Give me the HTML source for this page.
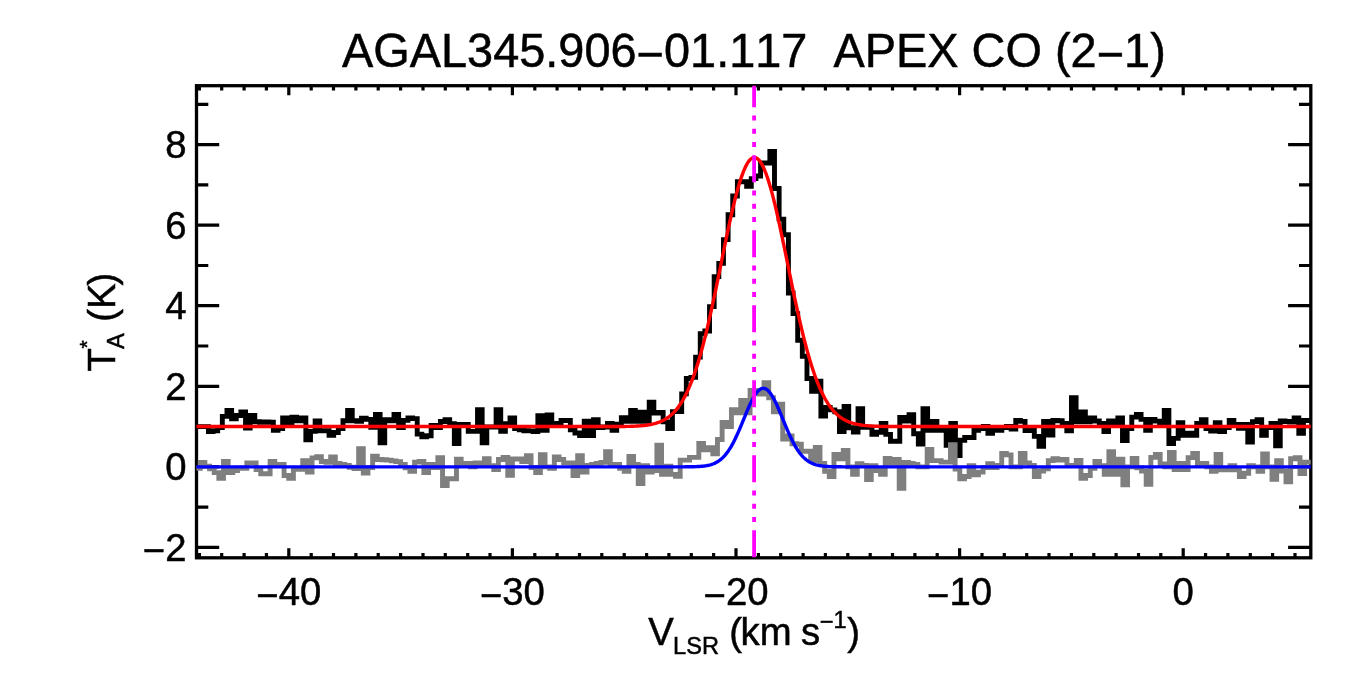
<!DOCTYPE html>
<html lang="en"><head><meta charset="utf-8"><title>AGAL345.906-01.117 APEX CO (2-1)</title>
<style>html,body{margin:0;padding:0;background:#fff;}svg{display:block;}text{font-kerning:none;stroke:#000;stroke-width:0.5px;font-family:"Liberation Sans",sans-serif;fill:#000;}</style></head><body>
<svg width="1350" height="675" viewBox="0 0 1350 675">
<rect width="1350" height="675" fill="#fff"/>
<rect x="196.5" y="85.7" width="1114.3" height="472.1" fill="none" stroke="#000" stroke-width="3.3"/>
<path d="M199.4,557.8v-4.9M199.4,85.7v4.9M221.7,557.8v-4.9M221.7,85.7v4.9M244.1,557.8v-4.9M244.1,85.7v4.9M266.4,557.8v-4.9M266.4,85.7v4.9M288.8,557.8v-9.5M288.8,85.7v9.5M311.2,557.8v-4.9M311.2,85.7v4.9M333.5,557.8v-4.9M333.5,85.7v4.9M355.9,557.8v-4.9M355.9,85.7v4.9M378.2,557.8v-4.9M378.2,85.7v4.9M400.6,557.8v-4.9M400.6,85.7v4.9M423.0,557.8v-4.9M423.0,85.7v4.9M445.3,557.8v-4.9M445.3,85.7v4.9M467.7,557.8v-4.9M467.7,85.7v4.9M490.0,557.8v-4.9M490.0,85.7v4.9M512.4,557.8v-9.5M512.4,85.7v9.5M534.8,557.8v-4.9M534.8,85.7v4.9M557.1,557.8v-4.9M557.1,85.7v4.9M579.5,557.8v-4.9M579.5,85.7v4.9M601.8,557.8v-4.9M601.8,85.7v4.9M624.2,557.8v-4.9M624.2,85.7v4.9M646.6,557.8v-4.9M646.6,85.7v4.9M668.9,557.8v-4.9M668.9,85.7v4.9M691.3,557.8v-4.9M691.3,85.7v4.9M713.6,557.8v-4.9M713.6,85.7v4.9M736.0,557.8v-9.5M736.0,85.7v9.5M758.4,557.8v-4.9M758.4,85.7v4.9M780.7,557.8v-4.9M780.7,85.7v4.9M803.1,557.8v-4.9M803.1,85.7v4.9M825.4,557.8v-4.9M825.4,85.7v4.9M847.8,557.8v-4.9M847.8,85.7v4.9M870.2,557.8v-4.9M870.2,85.7v4.9M892.5,557.8v-4.9M892.5,85.7v4.9M914.9,557.8v-4.9M914.9,85.7v4.9M937.2,557.8v-4.9M937.2,85.7v4.9M959.6,557.8v-9.5M959.6,85.7v9.5M982.0,557.8v-4.9M982.0,85.7v4.9M1004.3,557.8v-4.9M1004.3,85.7v4.9M1026.7,557.8v-4.9M1026.7,85.7v4.9M1049.0,557.8v-4.9M1049.0,85.7v4.9M1071.4,557.8v-4.9M1071.4,85.7v4.9M1093.8,557.8v-4.9M1093.8,85.7v4.9M1116.1,557.8v-4.9M1116.1,85.7v4.9M1138.5,557.8v-4.9M1138.5,85.7v4.9M1160.8,557.8v-4.9M1160.8,85.7v4.9M1183.2,557.8v-9.5M1183.2,85.7v9.5M1205.6,557.8v-4.9M1205.6,85.7v4.9M1227.9,557.8v-4.9M1227.9,85.7v4.9M1250.3,557.8v-4.9M1250.3,85.7v4.9M1272.6,557.8v-4.9M1272.6,85.7v4.9M1295.0,557.8v-4.9M1295.0,85.7v4.9M196.5,547.4h22.7M1310.8,547.4h-22.7M196.5,507.1h11.8M1310.8,507.1h-11.8M196.5,466.9h22.7M1310.8,466.9h-22.7M196.5,426.6h11.8M1310.8,426.6h-11.8M196.5,386.3h22.7M1310.8,386.3h-22.7M196.5,346.0h11.8M1310.8,346.0h-11.8M196.5,305.7h22.7M1310.8,305.7h-22.7M196.5,265.5h11.8M1310.8,265.5h-11.8M196.5,225.2h22.7M1310.8,225.2h-22.7M196.5,184.9h11.8M1310.8,184.9h-11.8M196.5,144.6h22.7M1310.8,144.6h-22.7M196.5,104.3h11.8M1310.8,104.3h-11.8" fill="none" stroke="#000" stroke-width="3.2"/>
<path d="M196.50,426.67H199.13V426.67H203.77V426.67H208.41V431.67H213.05V430.78H217.69V427.44H222.33V416.33H226.97V410.44H231.61V418.78H236.25V415.44H240.89V411.89H245.53V428.00H250.17V415.44H254.81V421.78H259.45V422.22H264.09V422.00H268.73V422.22H273.37V430.22H278.01V428.56H282.65V417.89H287.29V422.44H291.93V417.11H296.57V420.78H301.21V417.89H305.85V439.89H310.49V431.33H315.13V421.00H319.77V430.78H324.41V430.78H329.05V435.22H333.69V432.44H338.33V428.56H342.97V420.78H347.61V410.44H352.25V420.78H356.89V421.33H361.53V418.22H366.17V419.33H370.81V427.22H375.45V414.33H380.09V442.78H384.73V419.67H389.37V420.78H394.01V414.33H398.65V427.44H403.29V420.33H407.93V417.89H412.57V418.67H417.21V434.11H421.85V436.89H426.49V435.78H431.13V425.44H435.77V427.44H440.41V421.56H445.05V419.67H449.69V423.78H454.33V443.56H458.97V424.33H463.61V424.33H468.25V431.33H472.89V431.33H477.53V409.67H482.17V442.78H486.81V427.00H491.45V427.00H496.09V409.67H500.73V431.33H505.37V423.78H510.01V417.89H514.65V428.56H519.29V429.78H523.93V430.78H528.57V430.89H533.21V431.67H537.85V415.67H542.49V430.22H547.13V414.89H551.77V423.44H556.41V423.44H561.05V420.44H565.69V420.44H570.33V429.89H574.97V433.00H579.61V435.44H584.25V421.22H588.89V435.44H593.53V419.67H598.17V427.56H602.81V427.00H607.45V423.44H612.09V430.22H616.73V424.22H621.37V417.67H626.01V421.33H630.65V410.44H635.29V421.33H639.93V412.11H644.57V421.33H649.21V402.11H653.85V413.11H658.49V412.56H663.13V421.89H667.77V428.56H672.41V411.60H677.05V411.60H681.69V393.90H686.33V378.50H690.97V377.40H695.61V357.10H700.25V333.80H704.89V331.00H709.53V306.60H714.17V276.60H718.81V263.40H723.45V239.60H728.09V214.70H732.73V196.00H737.37V181.80H742.01V181.60H746.65V186.40H751.29V178.60H755.93V176.00H760.57V163.00H765.21V163.00H769.85V151.40H774.49V188.50H779.13V219.10H783.77V234.70H788.41V293.00H793.05V313.60H797.69V340.20H802.33V356.30H806.97V378.50H811.61V391.20H816.25V381.20H820.89V416.00H825.53V407.33H830.17V409.89H834.81V411.78H839.45V431.56H844.09V406.56H848.73V427.78H853.37V432.11H858.01V408.78H862.65V427.22H867.29V427.22H871.93V434.33H876.57V432.22H881.21V423.44H885.85V434.33H890.49V441.22H895.13V441.22H899.77V417.33H904.41V421.00H909.05V414.78H913.69V433.78H918.33V444.11H922.97V408.78H927.61V430.22H932.25V421.56H936.89V430.22H941.53V430.22H946.17V445.22H950.81V423.44H955.45V455.44H960.09V440.22H964.73V437.44H969.37V437.44H974.01V430.22H978.65V428.67H983.29V426.56H987.93V433.22H992.57V430.22H997.21V430.22H1001.85V427.44H1006.49V426.33H1011.13V429.11H1015.77V420.44H1020.41V421.33H1025.05V430.56H1029.69V429.78H1034.33V436.33H1038.97V446.33H1043.61V421.56H1048.25V435.00H1052.89V420.44H1057.53V420.78H1062.17V423.44H1066.81V430.78H1071.45V397.67H1076.09V421.89H1080.73V411.89H1085.37V421.89H1090.01V417.89H1094.65V421.00H1099.29V423.44H1103.93V431.67H1108.57V421.00H1113.21V425.33H1117.85V417.89H1122.49V440.56H1127.13V428.56H1131.77V417.11H1136.41V414.33H1141.05V419.33H1145.69V430.22H1150.33V419.33H1154.97V421.11H1159.61V423.11H1164.25V410.44H1168.89V443.56H1173.53V438.33H1178.17V422.67H1182.81V435.22H1187.45V433.11H1192.09V435.22H1196.73V423.44H1201.37V419.67H1206.01V428.56H1210.65V431.00H1215.29V422.67H1219.93V431.67H1224.57V427.44H1229.21V420.44H1233.85V424.56H1238.49V428.33H1243.13V424.56H1247.77V442.11H1252.41V421.67H1257.05V419.67H1261.69V435.22H1266.33V427.44H1270.97V423.44H1275.61V445.78H1280.25V421.00H1284.89V421.56H1289.53V422.00H1294.17V417.89H1298.81V433.22H1303.45V420.44H1308.09V420.44H1310.80" fill="none" stroke="#000" stroke-width="4.90" stroke-linejoin="miter" stroke-linecap="butt"/>
<path d="M196.50,468.22H200.20V462.33H204.86V466.11H209.52V468.78H214.18V472.67H218.84V478.22H223.50V461.44H228.16V472.67H232.82V470.44H237.48V468.22H242.14V468.22H246.80V462.89H251.46V462.89H256.12V469.67H260.78V473.78H265.44V473.78H270.10V461.44H274.76V464.56H279.42V464.56H284.08V475.44H288.74V478.22H293.40V469.33H298.06V469.33H302.72V460.67H307.38V472.11H312.04V457.89H316.70V456.78H321.36V461.44H326.02V462.22H330.68V457.00H335.34V463.44H340.00V464.44H344.66V465.33H349.32V467.22H353.98V468.56H358.64V448.78H363.30V473.00H367.96V467.67H372.62V456.22H377.28V459.56H381.94V459.78H386.60V460.11H391.26V460.89H395.92V461.67H400.58V464.56H405.24V467.89H409.90V471.22H414.56V462.11H419.22V461.44H423.88V472.67H428.54V464.56H433.20V467.67H437.86V457.67H442.52V485.44H447.18V478.78H451.84V478.78H456.50V459.22H461.16V463.44H465.82V463.44H470.48V466.89H475.14V462.89H479.80V463.44H484.46V458.78H489.12V465.67H493.78V469.67H498.44V459.56H503.10V457.33H507.76V475.22H512.42V459.00H517.08V459.00H521.74V461.44H526.40V455.67H531.06V467.44H535.72V472.67H540.38V454.78H545.04V466.89H549.70V468.22H554.36V457.00H559.02V459.56H563.68V462.89H568.34V462.89H573.00V475.67H577.66V455.67H582.32V472.11H586.98V465.33H591.64V464.44H596.30V463.33H600.96V462.33H605.62V451.78H610.28V464.33H614.94V464.33H619.60V468.22H624.26V471.22H628.92V456.56H633.58V464.56H638.24V483.44H642.90V465.67H647.56V472.11H652.22V470.44H656.88V445.11H661.54V474.33H666.20V466.22H670.86V474.33H675.52V476.33H680.18V460.11H684.84V460.11H689.50V457.33H694.16V457.33H698.82V443.44H703.48V449.89H708.14V447.67H712.80V453.78H717.46V439.56H722.12V422.56H726.78V426.60H731.44V409.70H736.10V412.90H740.76V400.40H745.42V412.90H750.08V390.40H754.74V390.40H759.40V394.10H764.06V382.70H768.72V397.70H773.38V411.90H778.04V404.30H782.70V439.10H787.36V436.00H792.02V443.80H796.68V444.20H801.34V451.22H806.00V451.22H810.66V460.56H815.32V447.33H819.98V463.44H824.64V471.22H829.30V476.56H833.96V454.56H838.62V458.78H843.28V450.33H847.94V466.89H852.60V474.33H857.26V463.67H861.92V465.33H866.58V479.67H871.24V465.67H875.90V470.44H880.56V474.33H885.22V458.44H889.88V463.33H894.54V459.56H899.20V488.22H903.86V462.33H908.52V463.44H913.18V464.56H917.84V466.89H922.50V466.89H927.16V449.56H931.82V460.67H936.48V460.67H941.14V462.11H945.80V462.11H950.46V444.78H955.12V469.00H959.78V478.78H964.44V476.56H969.10V465.67H973.76V474.89H978.42V472.11H983.08V467.44H987.74V463.67H992.40V467.44H997.06V465.33H1001.72V453.44H1006.38V454.89H1011.04V466.89H1015.70V466.89H1020.36V453.44H1025.02V462.89H1029.68V465.33H1034.34V476.56H1039.00V471.00H1043.66V468.78H1048.32V460.67H1052.98V458.67H1057.64V460.11H1062.30V459.56H1066.96V465.33H1071.62V465.33H1076.28V460.33H1080.94V478.22H1085.60V475.44H1090.26V468.22H1094.92V461.44H1099.58V465.67H1104.24V474.33H1108.90V451.78H1113.56V474.33H1118.22V459.22H1122.88V484.89H1127.54V466.89H1132.20V458.44H1136.86V467.78H1141.52V471.00H1146.18V484.33H1150.84V457.33H1155.50V454.33H1160.16V464.00H1164.82V466.78H1169.48V452.56H1174.14V469.67H1178.80V463.44H1183.46V469.67H1188.12V457.67H1192.78V453.44H1197.44V463.44H1202.10V463.44H1206.76V466.89H1211.42V471.22H1216.08V454.56H1220.74V469.89H1225.40V469.89H1230.06V465.67H1234.72V469.89H1239.38V476.56H1244.04V473.22H1248.70V465.67H1253.36V466.89H1258.02V471.22H1262.68V454.00H1267.34V466.89H1272.00V479.33H1276.66V460.67H1281.32V471.00H1285.98V481.89H1290.64V458.78H1295.30V457.67H1299.96V473.44H1304.62V462.11H1309.28V462.11H1310.80" fill="none" stroke="#7f7f7f" stroke-width="4.90" stroke-linejoin="miter" stroke-linecap="butt"/>
<path d="M196.5,426.57 L197.5,426.57 L198.5,426.57 L199.5,426.57 L200.5,426.57 L201.5,426.57 L202.5,426.57 L203.5,426.57 L204.5,426.57 L205.5,426.57 L206.5,426.57 L207.5,426.57 L208.5,426.57 L209.5,426.57 L210.5,426.57 L211.5,426.57 L212.5,426.57 L213.5,426.57 L214.5,426.57 L215.5,426.57 L216.5,426.57 L217.5,426.57 L218.5,426.57 L219.5,426.57 L220.5,426.57 L221.5,426.57 L222.5,426.57 L223.5,426.57 L224.5,426.57 L225.5,426.57 L226.5,426.57 L227.5,426.57 L228.5,426.57 L229.5,426.57 L230.5,426.57 L231.5,426.57 L232.5,426.57 L233.5,426.57 L234.5,426.57 L235.5,426.57 L236.5,426.57 L237.5,426.57 L238.5,426.57 L239.5,426.57 L240.5,426.57 L241.5,426.57 L242.5,426.57 L243.5,426.57 L244.5,426.57 L245.5,426.57 L246.5,426.57 L247.5,426.57 L248.5,426.57 L249.5,426.57 L250.5,426.57 L251.5,426.57 L252.5,426.57 L253.5,426.57 L254.5,426.57 L255.5,426.57 L256.5,426.57 L257.5,426.57 L258.5,426.57 L259.5,426.57 L260.5,426.57 L261.5,426.57 L262.5,426.57 L263.5,426.57 L264.5,426.57 L265.5,426.57 L266.5,426.57 L267.5,426.57 L268.5,426.57 L269.5,426.57 L270.5,426.57 L271.5,426.57 L272.5,426.57 L273.5,426.57 L274.5,426.57 L275.5,426.57 L276.5,426.57 L277.5,426.57 L278.5,426.57 L279.5,426.57 L280.5,426.57 L281.5,426.57 L282.5,426.57 L283.5,426.57 L284.5,426.57 L285.5,426.57 L286.5,426.57 L287.5,426.57 L288.5,426.57 L289.5,426.57 L290.5,426.57 L291.5,426.57 L292.5,426.57 L293.5,426.57 L294.5,426.57 L295.5,426.57 L296.5,426.57 L297.5,426.57 L298.5,426.57 L299.5,426.57 L300.5,426.57 L301.5,426.57 L302.5,426.57 L303.5,426.57 L304.5,426.57 L305.5,426.57 L306.5,426.57 L307.5,426.57 L308.5,426.57 L309.5,426.57 L310.5,426.57 L311.5,426.57 L312.5,426.57 L313.5,426.57 L314.5,426.57 L315.5,426.57 L316.5,426.57 L317.5,426.57 L318.5,426.57 L319.5,426.57 L320.5,426.57 L321.5,426.57 L322.5,426.57 L323.5,426.57 L324.5,426.57 L325.5,426.57 L326.5,426.57 L327.5,426.57 L328.5,426.57 L329.5,426.57 L330.5,426.57 L331.5,426.57 L332.5,426.57 L333.5,426.57 L334.5,426.57 L335.5,426.57 L336.5,426.57 L337.5,426.57 L338.5,426.57 L339.5,426.57 L340.5,426.57 L341.5,426.57 L342.5,426.57 L343.5,426.57 L344.5,426.57 L345.5,426.57 L346.5,426.57 L347.5,426.57 L348.5,426.57 L349.5,426.57 L350.5,426.57 L351.5,426.57 L352.5,426.57 L353.5,426.57 L354.5,426.57 L355.5,426.57 L356.5,426.57 L357.5,426.57 L358.5,426.57 L359.5,426.57 L360.5,426.57 L361.5,426.57 L362.5,426.57 L363.5,426.57 L364.5,426.57 L365.5,426.57 L366.5,426.57 L367.5,426.57 L368.5,426.57 L369.5,426.57 L370.5,426.57 L371.5,426.57 L372.5,426.57 L373.5,426.57 L374.5,426.57 L375.5,426.57 L376.5,426.57 L377.5,426.57 L378.5,426.57 L379.5,426.57 L380.5,426.57 L381.5,426.57 L382.5,426.57 L383.5,426.57 L384.5,426.57 L385.5,426.57 L386.5,426.57 L387.5,426.57 L388.5,426.57 L389.5,426.57 L390.5,426.57 L391.5,426.57 L392.5,426.57 L393.5,426.57 L394.5,426.57 L395.5,426.57 L396.5,426.57 L397.5,426.57 L398.5,426.57 L399.5,426.57 L400.5,426.57 L401.5,426.57 L402.5,426.57 L403.5,426.57 L404.5,426.57 L405.5,426.57 L406.5,426.57 L407.5,426.57 L408.5,426.57 L409.5,426.57 L410.5,426.57 L411.5,426.57 L412.5,426.57 L413.5,426.57 L414.5,426.57 L415.5,426.57 L416.5,426.57 L417.5,426.57 L418.5,426.57 L419.5,426.57 L420.5,426.57 L421.5,426.57 L422.5,426.57 L423.5,426.57 L424.5,426.57 L425.5,426.57 L426.5,426.57 L427.5,426.57 L428.5,426.57 L429.5,426.57 L430.5,426.57 L431.5,426.57 L432.5,426.57 L433.5,426.57 L434.5,426.57 L435.5,426.57 L436.5,426.57 L437.5,426.57 L438.5,426.57 L439.5,426.57 L440.5,426.57 L441.5,426.57 L442.5,426.57 L443.5,426.57 L444.5,426.57 L445.5,426.57 L446.5,426.57 L447.5,426.57 L448.5,426.57 L449.5,426.57 L450.5,426.57 L451.5,426.57 L452.5,426.57 L453.5,426.57 L454.5,426.57 L455.5,426.57 L456.5,426.57 L457.5,426.57 L458.5,426.57 L459.5,426.57 L460.5,426.57 L461.5,426.57 L462.5,426.57 L463.5,426.57 L464.5,426.57 L465.5,426.57 L466.5,426.57 L467.5,426.57 L468.5,426.57 L469.5,426.57 L470.5,426.57 L471.5,426.57 L472.5,426.57 L473.5,426.57 L474.5,426.57 L475.5,426.57 L476.5,426.57 L477.5,426.57 L478.5,426.57 L479.5,426.57 L480.5,426.57 L481.5,426.57 L482.5,426.57 L483.5,426.57 L484.5,426.57 L485.5,426.57 L486.5,426.57 L487.5,426.57 L488.5,426.57 L489.5,426.57 L490.5,426.57 L491.5,426.57 L492.5,426.57 L493.5,426.57 L494.5,426.57 L495.5,426.57 L496.5,426.57 L497.5,426.57 L498.5,426.57 L499.5,426.57 L500.5,426.57 L501.5,426.57 L502.5,426.57 L503.5,426.57 L504.5,426.57 L505.5,426.57 L506.5,426.57 L507.5,426.57 L508.5,426.57 L509.5,426.57 L510.5,426.57 L511.5,426.57 L512.5,426.57 L513.5,426.57 L514.5,426.57 L515.5,426.57 L516.5,426.57 L517.5,426.57 L518.5,426.57 L519.5,426.57 L520.5,426.57 L521.5,426.57 L522.5,426.57 L523.5,426.57 L524.5,426.57 L525.5,426.57 L526.5,426.57 L527.5,426.57 L528.5,426.57 L529.5,426.57 L530.5,426.57 L531.5,426.57 L532.5,426.57 L533.5,426.57 L534.5,426.57 L535.5,426.57 L536.5,426.57 L537.5,426.57 L538.5,426.57 L539.5,426.57 L540.5,426.57 L541.5,426.57 L542.5,426.57 L543.5,426.57 L544.5,426.57 L545.5,426.57 L546.5,426.57 L547.5,426.57 L548.5,426.57 L549.5,426.57 L550.5,426.57 L551.5,426.57 L552.5,426.57 L553.5,426.57 L554.5,426.57 L555.5,426.57 L556.5,426.57 L557.5,426.57 L558.5,426.57 L559.5,426.57 L560.5,426.57 L561.5,426.57 L562.5,426.57 L563.5,426.57 L564.5,426.57 L565.5,426.57 L566.5,426.57 L567.5,426.57 L568.5,426.57 L569.5,426.57 L570.5,426.57 L571.5,426.57 L572.5,426.57 L573.5,426.57 L574.5,426.57 L575.5,426.57 L576.5,426.57 L577.5,426.57 L578.5,426.57 L579.5,426.57 L580.5,426.57 L581.5,426.57 L582.5,426.57 L583.5,426.57 L584.5,426.57 L585.5,426.57 L586.5,426.57 L587.5,426.57 L588.5,426.57 L589.5,426.57 L590.5,426.57 L591.5,426.57 L592.5,426.57 L593.5,426.57 L594.5,426.57 L595.5,426.57 L596.5,426.57 L597.5,426.57 L598.5,426.57 L599.5,426.56 L600.5,426.56 L601.5,426.56 L602.5,426.56 L603.5,426.56 L604.5,426.56 L605.5,426.56 L606.5,426.56 L607.5,426.55 L608.5,426.55 L609.5,426.55 L610.5,426.55 L611.5,426.54 L612.5,426.54 L613.5,426.54 L614.5,426.53 L615.5,426.53 L616.5,426.52 L617.5,426.51 L618.5,426.51 L619.5,426.50 L620.5,426.49 L621.5,426.48 L622.5,426.47 L623.5,426.46 L624.5,426.44 L625.5,426.43 L626.5,426.41 L627.5,426.39 L628.5,426.37 L629.5,426.34 L630.5,426.31 L631.5,426.28 L632.5,426.25 L633.5,426.21 L634.5,426.17 L635.5,426.12 L636.5,426.07 L637.5,426.02 L638.5,425.96 L639.5,425.89 L640.5,425.82 L641.5,425.73 L642.5,425.64 L643.5,425.55 L644.5,425.44 L645.5,425.32 L646.5,425.19 L647.5,425.05 L648.5,424.90 L649.5,424.73 L650.5,424.55 L651.5,424.35 L652.5,424.13 L653.5,423.90 L654.5,423.64 L655.5,423.36 L656.5,423.06 L657.5,422.74 L658.5,422.39 L659.5,422.01 L660.5,421.61 L661.5,421.17 L662.5,420.70 L663.5,420.19 L664.5,419.65 L665.5,419.06 L666.5,418.43 L667.5,417.76 L668.5,417.05 L669.5,416.28 L670.5,415.46 L671.5,414.59 L672.5,413.66 L673.5,412.67 L674.5,411.62 L675.5,410.51 L676.5,409.32 L677.5,408.07 L678.5,406.75 L679.5,405.34 L680.5,403.86 L681.5,402.30 L682.5,400.66 L683.5,398.92 L684.5,397.10 L685.5,395.19 L686.5,393.18 L687.5,391.08 L688.5,388.88 L689.5,386.58 L690.5,384.18 L691.5,381.67 L692.5,379.06 L693.5,376.34 L694.5,373.51 L695.5,370.58 L696.5,367.54 L697.5,364.39 L698.5,361.13 L699.5,357.76 L700.5,354.28 L701.5,350.70 L702.5,347.01 L703.5,343.22 L704.5,339.33 L705.5,335.33 L706.5,331.25 L707.5,327.06 L708.5,322.79 L709.5,318.44 L710.5,314.00 L711.5,309.49 L712.5,304.90 L713.5,300.26 L714.5,295.55 L715.5,290.79 L716.5,285.99 L717.5,281.15 L718.5,276.27 L719.5,271.38 L720.5,266.47 L721.5,261.56 L722.5,256.64 L723.5,251.75 L724.5,246.87 L725.5,242.02 L726.5,237.22 L727.5,232.47 L728.5,227.77 L729.5,223.15 L730.5,218.61 L731.5,214.16 L732.5,209.82 L733.5,205.58 L734.5,201.47 L735.5,197.49 L736.5,193.64 L737.5,189.95 L738.5,186.42 L739.5,183.06 L740.5,179.87 L741.5,176.87 L742.5,174.06 L743.5,171.45 L744.5,169.05 L745.5,166.86 L746.5,164.89 L747.5,163.14 L748.5,161.62 L749.5,160.34 L750.5,159.29 L751.5,158.48 L752.5,157.91 L753.5,157.58 L754.5,157.50 L755.5,157.67 L756.5,158.07 L757.5,158.72 L758.5,159.61 L759.5,160.73 L760.5,162.10 L761.5,163.69 L762.5,165.51 L763.5,167.56 L764.5,169.82 L765.5,172.29 L766.5,174.96 L767.5,177.84 L768.5,180.90 L769.5,184.15 L770.5,187.57 L771.5,191.15 L772.5,194.89 L773.5,198.78 L774.5,202.81 L775.5,206.97 L776.5,211.24 L777.5,215.62 L778.5,220.10 L779.5,224.67 L780.5,229.31 L781.5,234.03 L782.5,238.80 L783.5,243.62 L784.5,248.47 L785.5,253.36 L786.5,258.26 L787.5,263.17 L788.5,268.09 L789.5,272.99 L790.5,277.88 L791.5,282.75 L792.5,287.58 L793.5,292.37 L794.5,297.11 L795.5,301.80 L796.5,306.42 L797.5,310.98 L798.5,315.47 L799.5,319.88 L800.5,324.21 L801.5,328.45 L802.5,332.60 L803.5,336.66 L804.5,340.62 L805.5,344.48 L806.5,348.24 L807.5,351.89 L808.5,355.44 L809.5,358.88 L810.5,362.21 L811.5,365.44 L812.5,368.55 L813.5,371.56 L814.5,374.46 L815.5,377.25 L816.5,379.93 L817.5,382.51 L818.5,384.98 L819.5,387.35 L820.5,389.62 L821.5,391.78 L822.5,393.86 L823.5,395.83 L824.5,397.71 L825.5,399.50 L826.5,401.21 L827.5,402.83 L828.5,404.36 L829.5,405.81 L830.5,407.19 L831.5,408.49 L832.5,409.72 L833.5,410.88 L834.5,411.98 L835.5,413.01 L836.5,413.97 L837.5,414.88 L838.5,415.74 L839.5,416.54 L840.5,417.29 L841.5,417.99 L842.5,418.65 L843.5,419.26 L844.5,419.83 L845.5,420.36 L846.5,420.86 L847.5,421.32 L848.5,421.74 L849.5,422.14 L850.5,422.51 L851.5,422.85 L852.5,423.17 L853.5,423.46 L854.5,423.73 L855.5,423.97 L856.5,424.20 L857.5,424.41 L858.5,424.61 L859.5,424.78 L860.5,424.95 L861.5,425.10 L862.5,425.23 L863.5,425.36 L864.5,425.47 L865.5,425.58 L866.5,425.67 L867.5,425.76 L868.5,425.84 L869.5,425.91 L870.5,425.98 L871.5,426.04 L872.5,426.09 L873.5,426.14 L874.5,426.18 L875.5,426.22 L876.5,426.26 L877.5,426.29 L878.5,426.32 L879.5,426.35 L880.5,426.37 L881.5,426.39 L882.5,426.41 L883.5,426.43 L884.5,426.45 L885.5,426.46 L886.5,426.47 L887.5,426.48 L888.5,426.49 L889.5,426.50 L890.5,426.51 L891.5,426.52 L892.5,426.52 L893.5,426.53 L894.5,426.53 L895.5,426.54 L896.5,426.54 L897.5,426.55 L898.5,426.55 L899.5,426.55 L900.5,426.55 L901.5,426.56 L902.5,426.56 L903.5,426.56 L904.5,426.56 L905.5,426.56 L906.5,426.56 L907.5,426.56 L908.5,426.56 L909.5,426.57 L910.5,426.57 L911.5,426.57 L912.5,426.57 L913.5,426.57 L914.5,426.57 L915.5,426.57 L916.5,426.57 L917.5,426.57 L918.5,426.57 L919.5,426.57 L920.5,426.57 L921.5,426.57 L922.5,426.57 L923.5,426.57 L924.5,426.57 L925.5,426.57 L926.5,426.57 L927.5,426.57 L928.5,426.57 L929.5,426.57 L930.5,426.57 L931.5,426.57 L932.5,426.57 L933.5,426.57 L934.5,426.57 L935.5,426.57 L936.5,426.57 L937.5,426.57 L938.5,426.57 L939.5,426.57 L940.5,426.57 L941.5,426.57 L942.5,426.57 L943.5,426.57 L944.5,426.57 L945.5,426.57 L946.5,426.57 L947.5,426.57 L948.5,426.57 L949.5,426.57 L950.5,426.57 L951.5,426.57 L952.5,426.57 L953.5,426.57 L954.5,426.57 L955.5,426.57 L956.5,426.57 L957.5,426.57 L958.5,426.57 L959.5,426.57 L960.5,426.57 L961.5,426.57 L962.5,426.57 L963.5,426.57 L964.5,426.57 L965.5,426.57 L966.5,426.57 L967.5,426.57 L968.5,426.57 L969.5,426.57 L970.5,426.57 L971.5,426.57 L972.5,426.57 L973.5,426.57 L974.5,426.57 L975.5,426.57 L976.5,426.57 L977.5,426.57 L978.5,426.57 L979.5,426.57 L980.5,426.57 L981.5,426.57 L982.5,426.57 L983.5,426.57 L984.5,426.57 L985.5,426.57 L986.5,426.57 L987.5,426.57 L988.5,426.57 L989.5,426.57 L990.5,426.57 L991.5,426.57 L992.5,426.57 L993.5,426.57 L994.5,426.57 L995.5,426.57 L996.5,426.57 L997.5,426.57 L998.5,426.57 L999.5,426.57 L1000.5,426.57 L1001.5,426.57 L1002.5,426.57 L1003.5,426.57 L1004.5,426.57 L1005.5,426.57 L1006.5,426.57 L1007.5,426.57 L1008.5,426.57 L1009.5,426.57 L1010.5,426.57 L1011.5,426.57 L1012.5,426.57 L1013.5,426.57 L1014.5,426.57 L1015.5,426.57 L1016.5,426.57 L1017.5,426.57 L1018.5,426.57 L1019.5,426.57 L1020.5,426.57 L1021.5,426.57 L1022.5,426.57 L1023.5,426.57 L1024.5,426.57 L1025.5,426.57 L1026.5,426.57 L1027.5,426.57 L1028.5,426.57 L1029.5,426.57 L1030.5,426.57 L1031.5,426.57 L1032.5,426.57 L1033.5,426.57 L1034.5,426.57 L1035.5,426.57 L1036.5,426.57 L1037.5,426.57 L1038.5,426.57 L1039.5,426.57 L1040.5,426.57 L1041.5,426.57 L1042.5,426.57 L1043.5,426.57 L1044.5,426.57 L1045.5,426.57 L1046.5,426.57 L1047.5,426.57 L1048.5,426.57 L1049.5,426.57 L1050.5,426.57 L1051.5,426.57 L1052.5,426.57 L1053.5,426.57 L1054.5,426.57 L1055.5,426.57 L1056.5,426.57 L1057.5,426.57 L1058.5,426.57 L1059.5,426.57 L1060.5,426.57 L1061.5,426.57 L1062.5,426.57 L1063.5,426.57 L1064.5,426.57 L1065.5,426.57 L1066.5,426.57 L1067.5,426.57 L1068.5,426.57 L1069.5,426.57 L1070.5,426.57 L1071.5,426.57 L1072.5,426.57 L1073.5,426.57 L1074.5,426.57 L1075.5,426.57 L1076.5,426.57 L1077.5,426.57 L1078.5,426.57 L1079.5,426.57 L1080.5,426.57 L1081.5,426.57 L1082.5,426.57 L1083.5,426.57 L1084.5,426.57 L1085.5,426.57 L1086.5,426.57 L1087.5,426.57 L1088.5,426.57 L1089.5,426.57 L1090.5,426.57 L1091.5,426.57 L1092.5,426.57 L1093.5,426.57 L1094.5,426.57 L1095.5,426.57 L1096.5,426.57 L1097.5,426.57 L1098.5,426.57 L1099.5,426.57 L1100.5,426.57 L1101.5,426.57 L1102.5,426.57 L1103.5,426.57 L1104.5,426.57 L1105.5,426.57 L1106.5,426.57 L1107.5,426.57 L1108.5,426.57 L1109.5,426.57 L1110.5,426.57 L1111.5,426.57 L1112.5,426.57 L1113.5,426.57 L1114.5,426.57 L1115.5,426.57 L1116.5,426.57 L1117.5,426.57 L1118.5,426.57 L1119.5,426.57 L1120.5,426.57 L1121.5,426.57 L1122.5,426.57 L1123.5,426.57 L1124.5,426.57 L1125.5,426.57 L1126.5,426.57 L1127.5,426.57 L1128.5,426.57 L1129.5,426.57 L1130.5,426.57 L1131.5,426.57 L1132.5,426.57 L1133.5,426.57 L1134.5,426.57 L1135.5,426.57 L1136.5,426.57 L1137.5,426.57 L1138.5,426.57 L1139.5,426.57 L1140.5,426.57 L1141.5,426.57 L1142.5,426.57 L1143.5,426.57 L1144.5,426.57 L1145.5,426.57 L1146.5,426.57 L1147.5,426.57 L1148.5,426.57 L1149.5,426.57 L1150.5,426.57 L1151.5,426.57 L1152.5,426.57 L1153.5,426.57 L1154.5,426.57 L1155.5,426.57 L1156.5,426.57 L1157.5,426.57 L1158.5,426.57 L1159.5,426.57 L1160.5,426.57 L1161.5,426.57 L1162.5,426.57 L1163.5,426.57 L1164.5,426.57 L1165.5,426.57 L1166.5,426.57 L1167.5,426.57 L1168.5,426.57 L1169.5,426.57 L1170.5,426.57 L1171.5,426.57 L1172.5,426.57 L1173.5,426.57 L1174.5,426.57 L1175.5,426.57 L1176.5,426.57 L1177.5,426.57 L1178.5,426.57 L1179.5,426.57 L1180.5,426.57 L1181.5,426.57 L1182.5,426.57 L1183.5,426.57 L1184.5,426.57 L1185.5,426.57 L1186.5,426.57 L1187.5,426.57 L1188.5,426.57 L1189.5,426.57 L1190.5,426.57 L1191.5,426.57 L1192.5,426.57 L1193.5,426.57 L1194.5,426.57 L1195.5,426.57 L1196.5,426.57 L1197.5,426.57 L1198.5,426.57 L1199.5,426.57 L1200.5,426.57 L1201.5,426.57 L1202.5,426.57 L1203.5,426.57 L1204.5,426.57 L1205.5,426.57 L1206.5,426.57 L1207.5,426.57 L1208.5,426.57 L1209.5,426.57 L1210.5,426.57 L1211.5,426.57 L1212.5,426.57 L1213.5,426.57 L1214.5,426.57 L1215.5,426.57 L1216.5,426.57 L1217.5,426.57 L1218.5,426.57 L1219.5,426.57 L1220.5,426.57 L1221.5,426.57 L1222.5,426.57 L1223.5,426.57 L1224.5,426.57 L1225.5,426.57 L1226.5,426.57 L1227.5,426.57 L1228.5,426.57 L1229.5,426.57 L1230.5,426.57 L1231.5,426.57 L1232.5,426.57 L1233.5,426.57 L1234.5,426.57 L1235.5,426.57 L1236.5,426.57 L1237.5,426.57 L1238.5,426.57 L1239.5,426.57 L1240.5,426.57 L1241.5,426.57 L1242.5,426.57 L1243.5,426.57 L1244.5,426.57 L1245.5,426.57 L1246.5,426.57 L1247.5,426.57 L1248.5,426.57 L1249.5,426.57 L1250.5,426.57 L1251.5,426.57 L1252.5,426.57 L1253.5,426.57 L1254.5,426.57 L1255.5,426.57 L1256.5,426.57 L1257.5,426.57 L1258.5,426.57 L1259.5,426.57 L1260.5,426.57 L1261.5,426.57 L1262.5,426.57 L1263.5,426.57 L1264.5,426.57 L1265.5,426.57 L1266.5,426.57 L1267.5,426.57 L1268.5,426.57 L1269.5,426.57 L1270.5,426.57 L1271.5,426.57 L1272.5,426.57 L1273.5,426.57 L1274.5,426.57 L1275.5,426.57 L1276.5,426.57 L1277.5,426.57 L1278.5,426.57 L1279.5,426.57 L1280.5,426.57 L1281.5,426.57 L1282.5,426.57 L1283.5,426.57 L1284.5,426.57 L1285.5,426.57 L1286.5,426.57 L1287.5,426.57 L1288.5,426.57 L1289.5,426.57 L1290.5,426.57 L1291.5,426.57 L1292.5,426.57 L1293.5,426.57 L1294.5,426.57 L1295.5,426.57 L1296.5,426.57 L1297.5,426.57 L1298.5,426.57 L1299.5,426.57 L1300.5,426.57 L1301.5,426.57 L1302.5,426.57 L1303.5,426.57 L1304.5,426.57 L1305.5,426.57 L1306.5,426.57 L1307.5,426.57 L1308.5,426.57 L1309.5,426.57 L1310.5,426.57 L1310.8,426.57" fill="none" stroke="#ff0000" stroke-width="3.4" stroke-linejoin="round"/>
<path d="M196.5,466.85 L197.5,466.85 L198.5,466.85 L199.5,466.85 L200.5,466.85 L201.5,466.85 L202.5,466.85 L203.5,466.85 L204.5,466.85 L205.5,466.85 L206.5,466.85 L207.5,466.85 L208.5,466.85 L209.5,466.85 L210.5,466.85 L211.5,466.85 L212.5,466.85 L213.5,466.85 L214.5,466.85 L215.5,466.85 L216.5,466.85 L217.5,466.85 L218.5,466.85 L219.5,466.85 L220.5,466.85 L221.5,466.85 L222.5,466.85 L223.5,466.85 L224.5,466.85 L225.5,466.85 L226.5,466.85 L227.5,466.85 L228.5,466.85 L229.5,466.85 L230.5,466.85 L231.5,466.85 L232.5,466.85 L233.5,466.85 L234.5,466.85 L235.5,466.85 L236.5,466.85 L237.5,466.85 L238.5,466.85 L239.5,466.85 L240.5,466.85 L241.5,466.85 L242.5,466.85 L243.5,466.85 L244.5,466.85 L245.5,466.85 L246.5,466.85 L247.5,466.85 L248.5,466.85 L249.5,466.85 L250.5,466.85 L251.5,466.85 L252.5,466.85 L253.5,466.85 L254.5,466.85 L255.5,466.85 L256.5,466.85 L257.5,466.85 L258.5,466.85 L259.5,466.85 L260.5,466.85 L261.5,466.85 L262.5,466.85 L263.5,466.85 L264.5,466.85 L265.5,466.85 L266.5,466.85 L267.5,466.85 L268.5,466.85 L269.5,466.85 L270.5,466.85 L271.5,466.85 L272.5,466.85 L273.5,466.85 L274.5,466.85 L275.5,466.85 L276.5,466.85 L277.5,466.85 L278.5,466.85 L279.5,466.85 L280.5,466.85 L281.5,466.85 L282.5,466.85 L283.5,466.85 L284.5,466.85 L285.5,466.85 L286.5,466.85 L287.5,466.85 L288.5,466.85 L289.5,466.85 L290.5,466.85 L291.5,466.85 L292.5,466.85 L293.5,466.85 L294.5,466.85 L295.5,466.85 L296.5,466.85 L297.5,466.85 L298.5,466.85 L299.5,466.85 L300.5,466.85 L301.5,466.85 L302.5,466.85 L303.5,466.85 L304.5,466.85 L305.5,466.85 L306.5,466.85 L307.5,466.85 L308.5,466.85 L309.5,466.85 L310.5,466.85 L311.5,466.85 L312.5,466.85 L313.5,466.85 L314.5,466.85 L315.5,466.85 L316.5,466.85 L317.5,466.85 L318.5,466.85 L319.5,466.85 L320.5,466.85 L321.5,466.85 L322.5,466.85 L323.5,466.85 L324.5,466.85 L325.5,466.85 L326.5,466.85 L327.5,466.85 L328.5,466.85 L329.5,466.85 L330.5,466.85 L331.5,466.85 L332.5,466.85 L333.5,466.85 L334.5,466.85 L335.5,466.85 L336.5,466.85 L337.5,466.85 L338.5,466.85 L339.5,466.85 L340.5,466.85 L341.5,466.85 L342.5,466.85 L343.5,466.85 L344.5,466.85 L345.5,466.85 L346.5,466.85 L347.5,466.85 L348.5,466.85 L349.5,466.85 L350.5,466.85 L351.5,466.85 L352.5,466.85 L353.5,466.85 L354.5,466.85 L355.5,466.85 L356.5,466.85 L357.5,466.85 L358.5,466.85 L359.5,466.85 L360.5,466.85 L361.5,466.85 L362.5,466.85 L363.5,466.85 L364.5,466.85 L365.5,466.85 L366.5,466.85 L367.5,466.85 L368.5,466.85 L369.5,466.85 L370.5,466.85 L371.5,466.85 L372.5,466.85 L373.5,466.85 L374.5,466.85 L375.5,466.85 L376.5,466.85 L377.5,466.85 L378.5,466.85 L379.5,466.85 L380.5,466.85 L381.5,466.85 L382.5,466.85 L383.5,466.85 L384.5,466.85 L385.5,466.85 L386.5,466.85 L387.5,466.85 L388.5,466.85 L389.5,466.85 L390.5,466.85 L391.5,466.85 L392.5,466.85 L393.5,466.85 L394.5,466.85 L395.5,466.85 L396.5,466.85 L397.5,466.85 L398.5,466.85 L399.5,466.85 L400.5,466.85 L401.5,466.85 L402.5,466.85 L403.5,466.85 L404.5,466.85 L405.5,466.85 L406.5,466.85 L407.5,466.85 L408.5,466.85 L409.5,466.85 L410.5,466.85 L411.5,466.85 L412.5,466.85 L413.5,466.85 L414.5,466.85 L415.5,466.85 L416.5,466.85 L417.5,466.85 L418.5,466.85 L419.5,466.85 L420.5,466.85 L421.5,466.85 L422.5,466.85 L423.5,466.85 L424.5,466.85 L425.5,466.85 L426.5,466.85 L427.5,466.85 L428.5,466.85 L429.5,466.85 L430.5,466.85 L431.5,466.85 L432.5,466.85 L433.5,466.85 L434.5,466.85 L435.5,466.85 L436.5,466.85 L437.5,466.85 L438.5,466.85 L439.5,466.85 L440.5,466.85 L441.5,466.85 L442.5,466.85 L443.5,466.85 L444.5,466.85 L445.5,466.85 L446.5,466.85 L447.5,466.85 L448.5,466.85 L449.5,466.85 L450.5,466.85 L451.5,466.85 L452.5,466.85 L453.5,466.85 L454.5,466.85 L455.5,466.85 L456.5,466.85 L457.5,466.85 L458.5,466.85 L459.5,466.85 L460.5,466.85 L461.5,466.85 L462.5,466.85 L463.5,466.85 L464.5,466.85 L465.5,466.85 L466.5,466.85 L467.5,466.85 L468.5,466.85 L469.5,466.85 L470.5,466.85 L471.5,466.85 L472.5,466.85 L473.5,466.85 L474.5,466.85 L475.5,466.85 L476.5,466.85 L477.5,466.85 L478.5,466.85 L479.5,466.85 L480.5,466.85 L481.5,466.85 L482.5,466.85 L483.5,466.85 L484.5,466.85 L485.5,466.85 L486.5,466.85 L487.5,466.85 L488.5,466.85 L489.5,466.85 L490.5,466.85 L491.5,466.85 L492.5,466.85 L493.5,466.85 L494.5,466.85 L495.5,466.85 L496.5,466.85 L497.5,466.85 L498.5,466.85 L499.5,466.85 L500.5,466.85 L501.5,466.85 L502.5,466.85 L503.5,466.85 L504.5,466.85 L505.5,466.85 L506.5,466.85 L507.5,466.85 L508.5,466.85 L509.5,466.85 L510.5,466.85 L511.5,466.85 L512.5,466.85 L513.5,466.85 L514.5,466.85 L515.5,466.85 L516.5,466.85 L517.5,466.85 L518.5,466.85 L519.5,466.85 L520.5,466.85 L521.5,466.85 L522.5,466.85 L523.5,466.85 L524.5,466.85 L525.5,466.85 L526.5,466.85 L527.5,466.85 L528.5,466.85 L529.5,466.85 L530.5,466.85 L531.5,466.85 L532.5,466.85 L533.5,466.85 L534.5,466.85 L535.5,466.85 L536.5,466.85 L537.5,466.85 L538.5,466.85 L539.5,466.85 L540.5,466.85 L541.5,466.85 L542.5,466.85 L543.5,466.85 L544.5,466.85 L545.5,466.85 L546.5,466.85 L547.5,466.85 L548.5,466.85 L549.5,466.85 L550.5,466.85 L551.5,466.85 L552.5,466.85 L553.5,466.85 L554.5,466.85 L555.5,466.85 L556.5,466.85 L557.5,466.85 L558.5,466.85 L559.5,466.85 L560.5,466.85 L561.5,466.85 L562.5,466.85 L563.5,466.85 L564.5,466.85 L565.5,466.85 L566.5,466.85 L567.5,466.85 L568.5,466.85 L569.5,466.85 L570.5,466.85 L571.5,466.85 L572.5,466.85 L573.5,466.85 L574.5,466.85 L575.5,466.85 L576.5,466.85 L577.5,466.85 L578.5,466.85 L579.5,466.85 L580.5,466.85 L581.5,466.85 L582.5,466.85 L583.5,466.85 L584.5,466.85 L585.5,466.85 L586.5,466.85 L587.5,466.85 L588.5,466.85 L589.5,466.85 L590.5,466.85 L591.5,466.85 L592.5,466.85 L593.5,466.85 L594.5,466.85 L595.5,466.85 L596.5,466.85 L597.5,466.85 L598.5,466.85 L599.5,466.85 L600.5,466.85 L601.5,466.85 L602.5,466.85 L603.5,466.85 L604.5,466.85 L605.5,466.85 L606.5,466.85 L607.5,466.85 L608.5,466.85 L609.5,466.85 L610.5,466.85 L611.5,466.85 L612.5,466.85 L613.5,466.85 L614.5,466.85 L615.5,466.85 L616.5,466.85 L617.5,466.85 L618.5,466.85 L619.5,466.85 L620.5,466.85 L621.5,466.85 L622.5,466.85 L623.5,466.85 L624.5,466.85 L625.5,466.85 L626.5,466.85 L627.5,466.85 L628.5,466.85 L629.5,466.85 L630.5,466.85 L631.5,466.85 L632.5,466.85 L633.5,466.85 L634.5,466.85 L635.5,466.85 L636.5,466.85 L637.5,466.85 L638.5,466.85 L639.5,466.85 L640.5,466.85 L641.5,466.85 L642.5,466.85 L643.5,466.85 L644.5,466.85 L645.5,466.85 L646.5,466.85 L647.5,466.85 L648.5,466.85 L649.5,466.85 L650.5,466.85 L651.5,466.85 L652.5,466.85 L653.5,466.85 L654.5,466.85 L655.5,466.85 L656.5,466.85 L657.5,466.85 L658.5,466.85 L659.5,466.85 L660.5,466.85 L661.5,466.85 L662.5,466.85 L663.5,466.85 L664.5,466.85 L665.5,466.85 L666.5,466.85 L667.5,466.85 L668.5,466.85 L669.5,466.85 L670.5,466.85 L671.5,466.85 L672.5,466.85 L673.5,466.85 L674.5,466.85 L675.5,466.85 L676.5,466.85 L677.5,466.84 L678.5,466.84 L679.5,466.84 L680.5,466.84 L681.5,466.84 L682.5,466.83 L683.5,466.83 L684.5,466.83 L685.5,466.82 L686.5,466.81 L687.5,466.81 L688.5,466.80 L689.5,466.79 L690.5,466.77 L691.5,466.76 L692.5,466.74 L693.5,466.71 L694.5,466.69 L695.5,466.66 L696.5,466.62 L697.5,466.57 L698.5,466.52 L699.5,466.46 L700.5,466.39 L701.5,466.31 L702.5,466.22 L703.5,466.11 L704.5,465.99 L705.5,465.85 L706.5,465.69 L707.5,465.50 L708.5,465.29 L709.5,465.05 L710.5,464.79 L711.5,464.48 L712.5,464.14 L713.5,463.76 L714.5,463.34 L715.5,462.87 L716.5,462.34 L717.5,461.77 L718.5,461.13 L719.5,460.43 L720.5,459.66 L721.5,458.82 L722.5,457.90 L723.5,456.91 L724.5,455.83 L725.5,454.68 L726.5,453.43 L727.5,452.10 L728.5,450.67 L729.5,449.16 L730.5,447.55 L731.5,445.85 L732.5,444.06 L733.5,442.19 L734.5,440.23 L735.5,438.18 L736.5,436.07 L737.5,433.88 L738.5,431.63 L739.5,429.32 L740.5,426.97 L741.5,424.58 L742.5,422.16 L743.5,419.73 L744.5,417.30 L745.5,414.87 L746.5,412.47 L747.5,410.11 L748.5,407.80 L749.5,405.56 L750.5,403.39 L751.5,401.32 L752.5,399.36 L753.5,397.53 L754.5,395.83 L755.5,394.27 L756.5,392.88 L757.5,391.66 L758.5,390.61 L759.5,389.76 L760.5,389.09 L761.5,388.63 L762.5,388.37 L763.5,388.31 L764.5,388.46 L765.5,388.81 L766.5,389.36 L767.5,390.11 L768.5,391.05 L769.5,392.18 L770.5,393.48 L771.5,394.94 L772.5,396.56 L773.5,398.32 L774.5,400.22 L775.5,402.22 L776.5,404.34 L777.5,406.54 L778.5,408.81 L779.5,411.15 L780.5,413.53 L781.5,415.94 L782.5,418.37 L783.5,420.81 L784.5,423.23 L785.5,425.64 L786.5,428.01 L787.5,430.35 L788.5,432.63 L789.5,434.85 L790.5,437.01 L791.5,439.10 L792.5,441.10 L793.5,443.03 L794.5,444.86 L795.5,446.61 L796.5,448.27 L797.5,449.84 L798.5,451.31 L799.5,452.70 L800.5,453.99 L801.5,455.20 L802.5,456.32 L803.5,457.36 L804.5,458.31 L805.5,459.20 L806.5,460.00 L807.5,460.74 L808.5,461.42 L809.5,462.03 L810.5,462.58 L811.5,463.08 L812.5,463.53 L813.5,463.94 L814.5,464.30 L815.5,464.62 L816.5,464.91 L817.5,465.16 L818.5,465.39 L819.5,465.59 L820.5,465.76 L821.5,465.91 L822.5,466.05 L823.5,466.16 L824.5,466.26 L825.5,466.35 L826.5,466.43 L827.5,466.49 L828.5,466.55 L829.5,466.59 L830.5,466.64 L831.5,466.67 L832.5,466.70 L833.5,466.72 L834.5,466.75 L835.5,466.76 L836.5,466.78 L837.5,466.79 L838.5,466.80 L839.5,466.81 L840.5,466.82 L841.5,466.82 L842.5,466.83 L843.5,466.83 L844.5,466.84 L845.5,466.84 L846.5,466.84 L847.5,466.84 L848.5,466.84 L849.5,466.85 L850.5,466.85 L851.5,466.85 L852.5,466.85 L853.5,466.85 L854.5,466.85 L855.5,466.85 L856.5,466.85 L857.5,466.85 L858.5,466.85 L859.5,466.85 L860.5,466.85 L861.5,466.85 L862.5,466.85 L863.5,466.85 L864.5,466.85 L865.5,466.85 L866.5,466.85 L867.5,466.85 L868.5,466.85 L869.5,466.85 L870.5,466.85 L871.5,466.85 L872.5,466.85 L873.5,466.85 L874.5,466.85 L875.5,466.85 L876.5,466.85 L877.5,466.85 L878.5,466.85 L879.5,466.85 L880.5,466.85 L881.5,466.85 L882.5,466.85 L883.5,466.85 L884.5,466.85 L885.5,466.85 L886.5,466.85 L887.5,466.85 L888.5,466.85 L889.5,466.85 L890.5,466.85 L891.5,466.85 L892.5,466.85 L893.5,466.85 L894.5,466.85 L895.5,466.85 L896.5,466.85 L897.5,466.85 L898.5,466.85 L899.5,466.85 L900.5,466.85 L901.5,466.85 L902.5,466.85 L903.5,466.85 L904.5,466.85 L905.5,466.85 L906.5,466.85 L907.5,466.85 L908.5,466.85 L909.5,466.85 L910.5,466.85 L911.5,466.85 L912.5,466.85 L913.5,466.85 L914.5,466.85 L915.5,466.85 L916.5,466.85 L917.5,466.85 L918.5,466.85 L919.5,466.85 L920.5,466.85 L921.5,466.85 L922.5,466.85 L923.5,466.85 L924.5,466.85 L925.5,466.85 L926.5,466.85 L927.5,466.85 L928.5,466.85 L929.5,466.85 L930.5,466.85 L931.5,466.85 L932.5,466.85 L933.5,466.85 L934.5,466.85 L935.5,466.85 L936.5,466.85 L937.5,466.85 L938.5,466.85 L939.5,466.85 L940.5,466.85 L941.5,466.85 L942.5,466.85 L943.5,466.85 L944.5,466.85 L945.5,466.85 L946.5,466.85 L947.5,466.85 L948.5,466.85 L949.5,466.85 L950.5,466.85 L951.5,466.85 L952.5,466.85 L953.5,466.85 L954.5,466.85 L955.5,466.85 L956.5,466.85 L957.5,466.85 L958.5,466.85 L959.5,466.85 L960.5,466.85 L961.5,466.85 L962.5,466.85 L963.5,466.85 L964.5,466.85 L965.5,466.85 L966.5,466.85 L967.5,466.85 L968.5,466.85 L969.5,466.85 L970.5,466.85 L971.5,466.85 L972.5,466.85 L973.5,466.85 L974.5,466.85 L975.5,466.85 L976.5,466.85 L977.5,466.85 L978.5,466.85 L979.5,466.85 L980.5,466.85 L981.5,466.85 L982.5,466.85 L983.5,466.85 L984.5,466.85 L985.5,466.85 L986.5,466.85 L987.5,466.85 L988.5,466.85 L989.5,466.85 L990.5,466.85 L991.5,466.85 L992.5,466.85 L993.5,466.85 L994.5,466.85 L995.5,466.85 L996.5,466.85 L997.5,466.85 L998.5,466.85 L999.5,466.85 L1000.5,466.85 L1001.5,466.85 L1002.5,466.85 L1003.5,466.85 L1004.5,466.85 L1005.5,466.85 L1006.5,466.85 L1007.5,466.85 L1008.5,466.85 L1009.5,466.85 L1010.5,466.85 L1011.5,466.85 L1012.5,466.85 L1013.5,466.85 L1014.5,466.85 L1015.5,466.85 L1016.5,466.85 L1017.5,466.85 L1018.5,466.85 L1019.5,466.85 L1020.5,466.85 L1021.5,466.85 L1022.5,466.85 L1023.5,466.85 L1024.5,466.85 L1025.5,466.85 L1026.5,466.85 L1027.5,466.85 L1028.5,466.85 L1029.5,466.85 L1030.5,466.85 L1031.5,466.85 L1032.5,466.85 L1033.5,466.85 L1034.5,466.85 L1035.5,466.85 L1036.5,466.85 L1037.5,466.85 L1038.5,466.85 L1039.5,466.85 L1040.5,466.85 L1041.5,466.85 L1042.5,466.85 L1043.5,466.85 L1044.5,466.85 L1045.5,466.85 L1046.5,466.85 L1047.5,466.85 L1048.5,466.85 L1049.5,466.85 L1050.5,466.85 L1051.5,466.85 L1052.5,466.85 L1053.5,466.85 L1054.5,466.85 L1055.5,466.85 L1056.5,466.85 L1057.5,466.85 L1058.5,466.85 L1059.5,466.85 L1060.5,466.85 L1061.5,466.85 L1062.5,466.85 L1063.5,466.85 L1064.5,466.85 L1065.5,466.85 L1066.5,466.85 L1067.5,466.85 L1068.5,466.85 L1069.5,466.85 L1070.5,466.85 L1071.5,466.85 L1072.5,466.85 L1073.5,466.85 L1074.5,466.85 L1075.5,466.85 L1076.5,466.85 L1077.5,466.85 L1078.5,466.85 L1079.5,466.85 L1080.5,466.85 L1081.5,466.85 L1082.5,466.85 L1083.5,466.85 L1084.5,466.85 L1085.5,466.85 L1086.5,466.85 L1087.5,466.85 L1088.5,466.85 L1089.5,466.85 L1090.5,466.85 L1091.5,466.85 L1092.5,466.85 L1093.5,466.85 L1094.5,466.85 L1095.5,466.85 L1096.5,466.85 L1097.5,466.85 L1098.5,466.85 L1099.5,466.85 L1100.5,466.85 L1101.5,466.85 L1102.5,466.85 L1103.5,466.85 L1104.5,466.85 L1105.5,466.85 L1106.5,466.85 L1107.5,466.85 L1108.5,466.85 L1109.5,466.85 L1110.5,466.85 L1111.5,466.85 L1112.5,466.85 L1113.5,466.85 L1114.5,466.85 L1115.5,466.85 L1116.5,466.85 L1117.5,466.85 L1118.5,466.85 L1119.5,466.85 L1120.5,466.85 L1121.5,466.85 L1122.5,466.85 L1123.5,466.85 L1124.5,466.85 L1125.5,466.85 L1126.5,466.85 L1127.5,466.85 L1128.5,466.85 L1129.5,466.85 L1130.5,466.85 L1131.5,466.85 L1132.5,466.85 L1133.5,466.85 L1134.5,466.85 L1135.5,466.85 L1136.5,466.85 L1137.5,466.85 L1138.5,466.85 L1139.5,466.85 L1140.5,466.85 L1141.5,466.85 L1142.5,466.85 L1143.5,466.85 L1144.5,466.85 L1145.5,466.85 L1146.5,466.85 L1147.5,466.85 L1148.5,466.85 L1149.5,466.85 L1150.5,466.85 L1151.5,466.85 L1152.5,466.85 L1153.5,466.85 L1154.5,466.85 L1155.5,466.85 L1156.5,466.85 L1157.5,466.85 L1158.5,466.85 L1159.5,466.85 L1160.5,466.85 L1161.5,466.85 L1162.5,466.85 L1163.5,466.85 L1164.5,466.85 L1165.5,466.85 L1166.5,466.85 L1167.5,466.85 L1168.5,466.85 L1169.5,466.85 L1170.5,466.85 L1171.5,466.85 L1172.5,466.85 L1173.5,466.85 L1174.5,466.85 L1175.5,466.85 L1176.5,466.85 L1177.5,466.85 L1178.5,466.85 L1179.5,466.85 L1180.5,466.85 L1181.5,466.85 L1182.5,466.85 L1183.5,466.85 L1184.5,466.85 L1185.5,466.85 L1186.5,466.85 L1187.5,466.85 L1188.5,466.85 L1189.5,466.85 L1190.5,466.85 L1191.5,466.85 L1192.5,466.85 L1193.5,466.85 L1194.5,466.85 L1195.5,466.85 L1196.5,466.85 L1197.5,466.85 L1198.5,466.85 L1199.5,466.85 L1200.5,466.85 L1201.5,466.85 L1202.5,466.85 L1203.5,466.85 L1204.5,466.85 L1205.5,466.85 L1206.5,466.85 L1207.5,466.85 L1208.5,466.85 L1209.5,466.85 L1210.5,466.85 L1211.5,466.85 L1212.5,466.85 L1213.5,466.85 L1214.5,466.85 L1215.5,466.85 L1216.5,466.85 L1217.5,466.85 L1218.5,466.85 L1219.5,466.85 L1220.5,466.85 L1221.5,466.85 L1222.5,466.85 L1223.5,466.85 L1224.5,466.85 L1225.5,466.85 L1226.5,466.85 L1227.5,466.85 L1228.5,466.85 L1229.5,466.85 L1230.5,466.85 L1231.5,466.85 L1232.5,466.85 L1233.5,466.85 L1234.5,466.85 L1235.5,466.85 L1236.5,466.85 L1237.5,466.85 L1238.5,466.85 L1239.5,466.85 L1240.5,466.85 L1241.5,466.85 L1242.5,466.85 L1243.5,466.85 L1244.5,466.85 L1245.5,466.85 L1246.5,466.85 L1247.5,466.85 L1248.5,466.85 L1249.5,466.85 L1250.5,466.85 L1251.5,466.85 L1252.5,466.85 L1253.5,466.85 L1254.5,466.85 L1255.5,466.85 L1256.5,466.85 L1257.5,466.85 L1258.5,466.85 L1259.5,466.85 L1260.5,466.85 L1261.5,466.85 L1262.5,466.85 L1263.5,466.85 L1264.5,466.85 L1265.5,466.85 L1266.5,466.85 L1267.5,466.85 L1268.5,466.85 L1269.5,466.85 L1270.5,466.85 L1271.5,466.85 L1272.5,466.85 L1273.5,466.85 L1274.5,466.85 L1275.5,466.85 L1276.5,466.85 L1277.5,466.85 L1278.5,466.85 L1279.5,466.85 L1280.5,466.85 L1281.5,466.85 L1282.5,466.85 L1283.5,466.85 L1284.5,466.85 L1285.5,466.85 L1286.5,466.85 L1287.5,466.85 L1288.5,466.85 L1289.5,466.85 L1290.5,466.85 L1291.5,466.85 L1292.5,466.85 L1293.5,466.85 L1294.5,466.85 L1295.5,466.85 L1296.5,466.85 L1297.5,466.85 L1298.5,466.85 L1299.5,466.85 L1300.5,466.85 L1301.5,466.85 L1302.5,466.85 L1303.5,466.85 L1304.5,466.85 L1305.5,466.85 L1306.5,466.85 L1307.5,466.85 L1308.5,466.85 L1309.5,466.85 L1310.5,466.85 L1310.8,466.85" fill="none" stroke="#0000ff" stroke-width="3.4" stroke-linejoin="round"/>
<line x1="754.1" y1="557.2" x2="754.1" y2="85.7" stroke="#ff00ff" stroke-width="3.8" stroke-dasharray="27 8.25 5 8.25 5 8.25 5 8.25"/>
<defs><filter id="gs" x="-5%" y="-5%" width="110%" height="110%" color-interpolation-filters="sRGB"><feOffset dx="0" dy="0"/></filter></defs><g filter="url(#gs)">
<text transform="translate(288.8,605.3) scale(1,1.035)" font-size="38.3" text-anchor="middle"><tspan dy="3.3">−</tspan><tspan dy="-3.3">40</tspan></text>
<text transform="translate(512.4,605.3) scale(1,1.035)" font-size="38.3" text-anchor="middle"><tspan dy="3.3">−</tspan><tspan dy="-3.3">30</tspan></text>
<text transform="translate(736.0,605.3) scale(1,1.035)" font-size="38.3" text-anchor="middle"><tspan dy="3.3">−</tspan><tspan dy="-3.3">20</tspan></text>
<text transform="translate(959.6,605.3) scale(1,1.035)" font-size="38.3" text-anchor="middle"><tspan dy="3.3">−</tspan><tspan dy="-3.3">10</tspan></text>
<text transform="translate(1183.2,605.3) scale(1,1.035)" font-size="38.3" text-anchor="middle">0</text>
<text transform="translate(186.5,560.9) scale(1,1.035)" font-size="38.3" text-anchor="end"><tspan dy="3.3">−</tspan><tspan dy="-3.3">2</tspan></text>
<text transform="translate(186.5,480.4) scale(1,1.035)" font-size="38.3" text-anchor="end">0</text>
<text transform="translate(186.5,399.8) scale(1,1.035)" font-size="38.3" text-anchor="end">2</text>
<text transform="translate(186.5,319.2) scale(1,1.035)" font-size="38.3" text-anchor="end">4</text>
<text transform="translate(186.5,238.7) scale(1,1.035)" font-size="38.3" text-anchor="end">6</text>
<text transform="translate(186.5,158.1) scale(1,1.035)" font-size="38.3" text-anchor="end">8</text>
<text transform="translate(342.0,66.6) scale(1,1.035)" font-size="46.9" xml:space="preserve">AGAL345.906<tspan dy="4.0">−</tspan><tspan dy="-4.0">01.117  APEX CO (2</tspan><tspan dy="4.0">−</tspan><tspan dy="-4.0">1)</tspan></text>
<text transform="translate(648.3,645.4) scale(1,1.035)" font-size="38.3" xml:space="preserve">V<tspan font-size="23.6" dy="8.5" dx="-0.8">LSR</tspan><tspan dy="-8.5" dx="-0.4"> (</tspan><tspan dx="-1.4">km</tspan><tspan dx="-1.2"> s</tspan><tspan font-size="23.6" dy="-15" dx="-0.5">−</tspan><tspan font-size="23.6" dy="-2">1</tspan><tspan dy="17" dx="0.6">)</tspan></text>
<text transform="translate(114.7,371.5) rotate(-90) scale(1,1.035)" font-size="38.3" xml:space="preserve">T<tspan font-size="23.6" dy="9.3" dx="-1">A</tspan><tspan dy="-9.3" dx="1"> (K</tspan><tspan dx="-2">)</tspan></text><text transform="translate(93.8,348.4) rotate(-90)" font-size="21">*</text>
</g>
</svg></body></html>
